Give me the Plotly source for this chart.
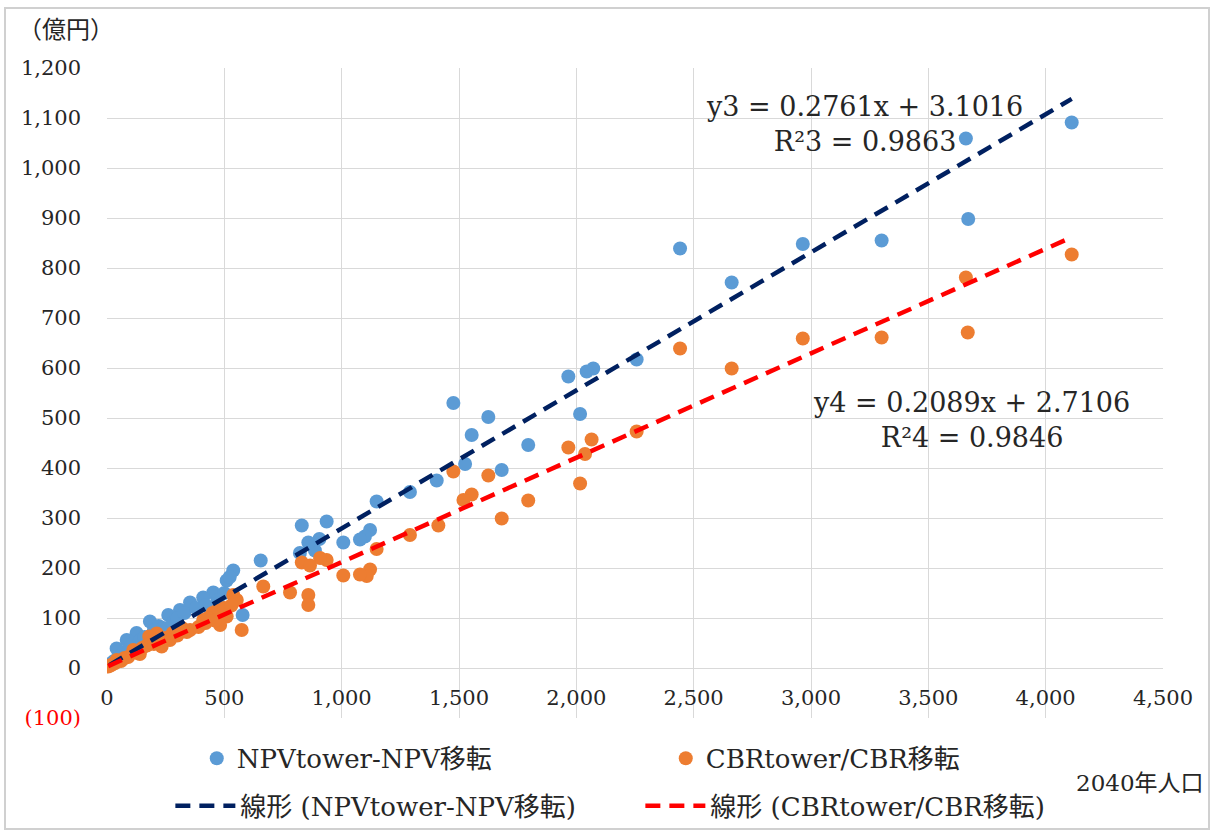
import plotly.graph_objects as go

# ---------------- data ----------------
npv_x = [4111, 3660, 3670, 3301, 2965, 2442, 2662, 2257, 2072, 2044, 1966, 2016,
         1795, 1682, 1625, 1554, 1476, 1526, 1405, 1291, 1149, 1121, 1099, 1078,
         1007, 936, 905, 886, 858, 830, 822, 655, 578, 538, 510, 453, 410, 354,
         311, 261, 183, 126, 84, 41,
         10, 20, 30, 50, 60, 70, 95, 110, 140, 160, 200, 220, 240, 280, 300,
         330, 380, 420, 470, 500, 523]
npv_y = [1091, 1059, 898, 855, 848, 839, 771, 617, 599, 593, 583, 508,
         446, 396, 502, 466, 530, 408, 375, 352, 333, 276, 263, 257,
         251, 293, 258, 235, 251, 285, 230, 215, 106, 195, 175, 151, 141, 131,
         116, 106, 93, 70, 56, 39,
         5, 10, 14, 22, 25, 30, 40, 48, 55, 62, 75, 84, 80, 90, 100,
         110, 120, 125, 135, 150, 182]

cbr_x = [4111, 3660, 3668, 3301, 2965, 2442, 2662, 2257, 2065, 2037, 1966, 2016,
         1795, 1682, 1625, 1554, 1519, 1476, 1412, 1291, 1149, 1121, 1107, 1078,
         1007, 936, 908, 858, 858, 830, 865, 780, 666, 574, 553, 538, 510, 482,
         410, 354, 268, 233, 212, 180, 112, 41, 5,
         15, 25, 35, 60, 75, 90, 130, 150, 170, 190, 250, 300, 320, 390, 420,
         450, 470, 500, 530, 140, 200, 280, 340, 430, 460]
cbr_y = [827, 781, 671, 661, 659, 639, 599, 473, 457, 428, 441, 369,
         335, 299, 385, 347, 336, 393, 285, 266, 238, 197, 184, 187,
         185, 216, 220, 146, 126, 211, 205, 151, 163, 76, 136, 146, 103, 86,
         96, 76, 56, 43, 69, 63, 36, 16, 3,
         5, 8, 10, 14, 20, 22, 30, 40, 45, 50, 60, 65, 80, 82, 90,
         110, 115, 120, 125, 28, 48, 70, 72, 100, 95]

# trend lines (Excel linear fit, coefficients as displayed)
trend_slope = [0.2761, 0.2089]
trend_intercept = [3.1016, 2.7106]
trend_r2 = [0.9863, 0.9846]

names = ["NPVtower-NPV移転", "CBRtower/CBR移転"]
line_names = ["線形 (NPVtower-NPV移転)", "線形 (CBRtower/CBR移転)"]

x_ticks = [0, 500, 1000, 1500, 2000, 2500, 3000, 3500, 4000, 4500]
y_ticks = [-100, 0, 100, 200, 300, 400, 500, 600, 700, 800, 900, 1000, 1100, 1200]

# ---------------- figure ----------------
FONT = "DejaVu Serif, Liberation Serif, Noto Sans CJK JP, serif"
TXT = "#262626"
fig = go.Figure()

fig.add_trace(go.Scatter(x=npv_x, y=npv_y, mode="markers", name=names[0],
                         marker=dict(color="#5B9BD5", size=14), legend="legend"))
fig.add_trace(go.Scatter(x=cbr_x, y=cbr_y, mode="markers", name=names[1],
                         marker=dict(color="#ED7D31", size=14), legend="legend"))

line_colors = ["#002060", "#FF0000"]
xs_all = [npv_x, cbr_x]
for i in range(2):
    x0, x1 = min(xs_all[i]), max(xs_all[i])
    fig.add_trace(go.Scatter(
        x=[x0, x1],
        y=[trend_slope[i] * x0 + trend_intercept[i], trend_slope[i] * x1 + trend_intercept[i]],
        mode="lines", name=line_names[i], legend="legend2",
        line=dict(color=line_colors[i], width=4.5, dash="15px,9px")))


def fmt(v):
    return f"<span style='color:#FF0000'>({abs(v)})</span>" if v < 0 else f"{v:,}"


y0_pos = 100 / 1300  # paper position of y = 0

fig.update_layout(
    width=1214, height=832,
    margin=dict(l=107, r=51, t=68, b=114, autoexpand=False),
    paper_bgcolor="white", plot_bgcolor="white",
    font=dict(family=FONT, size=21, color=TXT),
    xaxis=dict(range=[0, 4500], tickvals=x_ticks, ticktext=[f"{v:,}" for v in x_ticks],
               showgrid=True, gridcolor="#D9D9D9", gridwidth=1, zeroline=False,
               showline=False, ticks="", anchor="free", position=y0_pos,
               ticklabelstandoff=15, tickfont=dict(size=21), automargin=False),
    yaxis=dict(range=[-100, 1200], tickvals=y_ticks, ticktext=[fmt(v) for v in y_ticks],
               showgrid=True, gridcolor="#D9D9D9", gridwidth=1, zeroline=False,
               showline=False, ticks="", ticklabelstandoff=25, tickfont=dict(size=21),
               automargin=False),
    showlegend=True,
    legend=dict(orientation="h", x=0.085, xref="paper", y=-0.062, yanchor="middle",
                font=dict(size=26, family=FONT, color=TXT), entrywidth=424,
                bgcolor="rgba(0,0,0,0)"),
    legend2=dict(orientation="h", x=0.06, xref="paper", y=-0.135, yanchor="middle",
                 font=dict(size=26, family=FONT, color=TXT), entrywidth=395, itemwidth=60,
                 bgcolor="rgba(0,0,0,0)"),
)

# equation labels
fig.add_annotation(x=3230, y=1088, xref="x", yref="y", showarrow=False,
                   text=f"y3 = {trend_slope[0]}x + {trend_intercept[0]}<br>R²3 = {trend_r2[0]}",
                   font=dict(size=27, family=FONT, color=TXT), align="center")
fig.add_annotation(x=3682, y=496, xref="x", yref="y", showarrow=False,
                   text=f"y4 = {trend_slope[1]}x + {trend_intercept[1]}<br>R²4 = {trend_r2[1]}",
                   font=dict(size=27, family=FONT, color=TXT), align="center")

# axis titles
fig.add_annotation(x=(16 - 107) / 1056, y=(718 - 30) / 650, xref="paper", yref="paper",
                   showarrow=False, text="（億円）", xanchor="left", yanchor="middle",
                   font=dict(size=24, family=FONT, color=TXT))
fig.add_annotation(x=(1206 - 107) / 1056, y=(718 - 783) / 650, xref="paper", yref="paper",
                   showarrow=False, text="2040年人口", xanchor="right", yanchor="middle",
                   font=dict(size=23, family=FONT, color=TXT))

# chart-area border
fig.add_shape(type="rect", xref="paper", yref="paper",
              x0=(5 - 107) / 1056, x1=(1209 - 107) / 1056,
              y0=(718 - 829) / 650, y1=(718 - 8) / 650,
              line=dict(color="#D0D0D0", width=2), layer="below")

fig.write_html("out.html")
